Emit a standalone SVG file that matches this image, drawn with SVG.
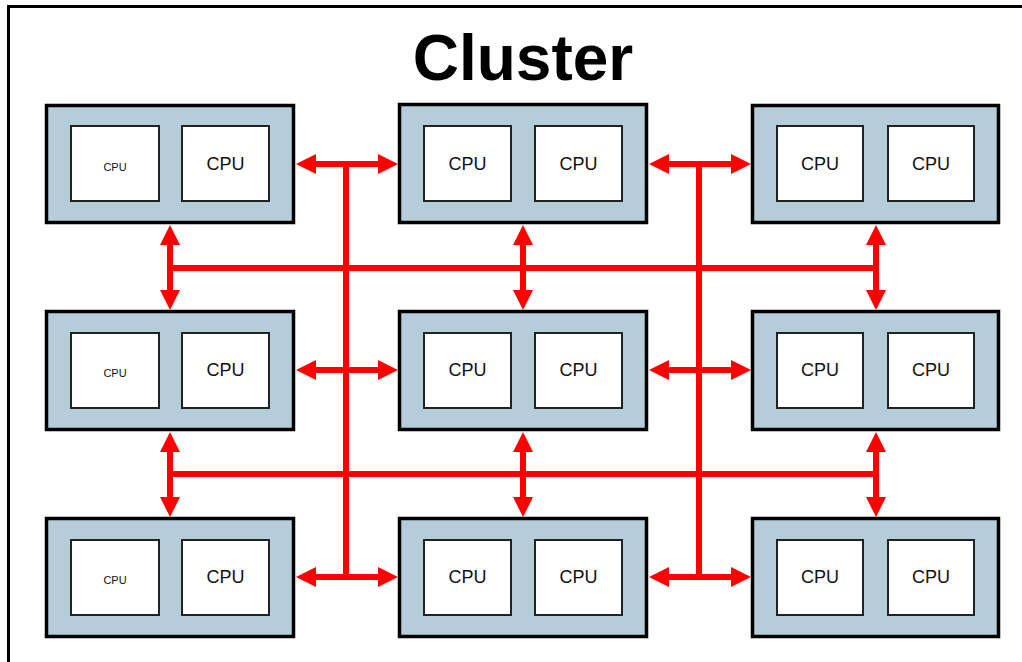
<svg xmlns="http://www.w3.org/2000/svg" width="1022" height="662" viewBox="0 0 1022 662">
<style>
.frame{fill:#fff;stroke:#000;stroke-width:3}
.node{fill:#b4cdd8;stroke:#000;stroke-width:3.5}
.cpu{fill:#fff;stroke:#222;stroke-width:2}
.lbl{font-family:"Liberation Sans",Arial,sans-serif;font-size:18px;fill:#111;text-anchor:middle;dominant-baseline:central}
.sm{font-size:11px}
.title{font-family:"Liberation Sans",Arial,sans-serif;font-size:64px;font-weight:bold;fill:#000;text-anchor:middle}
.wire{stroke:#ff0000;stroke-width:6;fill:none}
.arr{stroke:#ff0000;stroke-width:6;fill:none;marker-start:url(#ah);marker-end:url(#ah)}
</style>
<defs>
<marker id="ah" viewBox="0 0 20 20" refX="10" refY="10" markerWidth="20" markerHeight="20" markerUnits="userSpaceOnUse" orient="auto-start-reverse">
<path d="M0,0 L20,10 L0,20 z" fill="#ff0000"/>
</marker>
</defs>
<rect class="frame" x="8.5" y="6.5" width="1040" height="700"/>
<text class="title" x="523" y="80">Cluster</text>

<g id="n11"><rect class="node" x="46.5" y="105.5" width="247" height="117"/><rect class="cpu" x="71" y="126" width="88" height="75"/><text class="lbl sm" x="115" y="167">CPU</text><rect class="cpu" x="182" y="126" width="87" height="75"/><text class="lbl" x="225.5" y="164">CPU</text></g>
<g id="n12"><rect class="node" x="399.5" y="104.5" width="247" height="118"/><rect class="cpu" x="424" y="126" width="87" height="75"/><text class="lbl" x="467.5" y="164">CPU</text><rect class="cpu" x="535" y="126" width="87" height="75"/><text class="lbl" x="578.5" y="164">CPU</text></g>
<g id="n13"><rect class="node" x="752.5" y="105.5" width="246" height="117"/><rect class="cpu" x="777" y="126" width="86" height="75"/><text class="lbl" x="820" y="164">CPU</text><rect class="cpu" x="888" y="126" width="86" height="75"/><text class="lbl" x="931" y="164">CPU</text></g>

<g id="n21"><rect class="node" x="46.5" y="311.5" width="247" height="118"/><rect class="cpu" x="71" y="333" width="88" height="75"/><text class="lbl sm" x="115" y="373">CPU</text><rect class="cpu" x="182" y="333" width="87" height="75"/><text class="lbl" x="225.5" y="370">CPU</text></g>
<g id="n22"><rect class="node" x="399.5" y="311.5" width="247" height="118"/><rect class="cpu" x="424" y="333" width="87" height="75"/><text class="lbl" x="467.5" y="370">CPU</text><rect class="cpu" x="535" y="333" width="87" height="75"/><text class="lbl" x="578.5" y="370">CPU</text></g>
<g id="n23"><rect class="node" x="752.5" y="311.5" width="246" height="118"/><rect class="cpu" x="777" y="333" width="86" height="75"/><text class="lbl" x="820" y="370">CPU</text><rect class="cpu" x="888" y="333" width="86" height="75"/><text class="lbl" x="931" y="370">CPU</text></g>

<g id="n31"><rect class="node" x="46.5" y="518.5" width="247" height="118"/><rect class="cpu" x="71" y="540" width="88" height="75"/><text class="lbl sm" x="115" y="580">CPU</text><rect class="cpu" x="182" y="540" width="87" height="75"/><text class="lbl" x="225.5" y="577">CPU</text></g>
<g id="n32"><rect class="node" x="399.5" y="518.5" width="247" height="118"/><rect class="cpu" x="424" y="540" width="87" height="75"/><text class="lbl" x="467.5" y="577">CPU</text><rect class="cpu" x="535" y="540" width="87" height="75"/><text class="lbl" x="578.5" y="577">CPU</text></g>
<g id="n33"><rect class="node" x="752.5" y="518.5" width="246" height="118"/><rect class="cpu" x="777" y="540" width="86" height="75"/><text class="lbl" x="820" y="577">CPU</text><rect class="cpu" x="888" y="540" width="86" height="75"/><text class="lbl" x="931" y="577">CPU</text></g>

<g id="connectors">
<line class="wire" x1="346" y1="164" x2="346" y2="577"/>
<line class="wire" x1="699" y1="164" x2="699" y2="577"/>
<line class="wire" x1="170" y1="268" x2="876" y2="268"/>
<line class="wire" x1="170" y1="474" x2="876" y2="474"/>
<line class="arr" x1="306" y1="164" x2="388" y2="164"/>
<line class="arr" x1="659" y1="164" x2="741" y2="164"/>
<line class="arr" x1="306" y1="370" x2="388" y2="370"/>
<line class="arr" x1="659" y1="370" x2="741" y2="370"/>
<line class="arr" x1="306" y1="577" x2="388" y2="577"/>
<line class="arr" x1="659" y1="577" x2="741" y2="577"/>
<line class="arr" x1="170" y1="235" x2="170" y2="300"/>
<line class="arr" x1="523" y1="235" x2="523" y2="300"/>
<line class="arr" x1="876" y1="235" x2="876" y2="300"/>
<line class="arr" x1="170" y1="442" x2="170" y2="507"/>
<line class="arr" x1="523" y1="442" x2="523" y2="507"/>
<line class="arr" x1="876" y1="442" x2="876" y2="507"/>
</g>
</svg>
